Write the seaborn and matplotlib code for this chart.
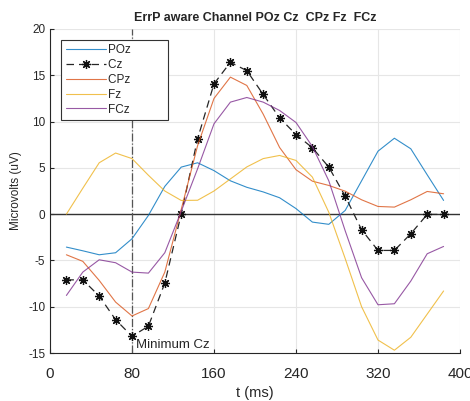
import numpy as np
import pandas as pd
import matplotlib
matplotlib.use("Agg")
import matplotlib.pyplot as plt
import seaborn as sns

t_ms = [16, 32, 48, 64, 80, 96, 112, 128, 144, 160, 176, 192,
        208, 224, 240, 256, 272, 288, 304, 320, 336, 352, 368, 384]

POz = [-3.56, -3.96, -4.39, -4.17, -2.66, -0.14, 3.0, 5.08, 5.55, 4.7, 3.6, 2.9,
       2.4, 1.77, 0.6, -0.86, -1.1, 0.4, 3.6, 6.8, 8.2, 7.06, 4.25, 1.48]
Cz = [-7.1, -7.1, -8.85, -11.4, -13.2, -12.1, -7.45, 0.0, 8.14, 14.08, 16.4, 15.5,
      12.93, 10.4, 8.6, 7.17, 5.08, 1.94, -1.69, -3.92, -3.92, -2.12, -0.03, -0.03]
CPz = [-4.39, -5.1, -7.16, -9.5, -11.0, -10.2, -6.26, 0.5, 7.4, 12.5, 14.8, 13.9,
       10.8, 7.2, 4.8, 3.56, 3.1, 2.48, 1.55, 0.83, 0.76, 1.55, 2.45, 2.2]
Fz = [0.0, 2.8, 5.55, 6.6, 6.0, 4.2, 2.5, 1.48, 1.5, 2.5, 3.8, 5.1,
      6.0, 6.34, 5.8, 4.0, 0.2, -4.8, -10.0, -13.6, -14.7, -13.3, -10.8, -8.3]
FCz = [-8.78, -6.26, -4.93, -5.25, -6.26, -6.37, -4.17, 0.3, 4.9, 9.76, 12.1, 12.6,
       12.1, 11.2, 9.9, 7.3, 3.6, -1.8, -6.87, -9.79, -9.68, -7.23, -4.28, -3.49]

channels = ["POz", "Cz", "CPz", "Fz", "FCz"]
values = {"POz": POz, "Cz": Cz, "CPz": CPz, "Fz": Fz, "FCz": FCz}
colors = {"POz": "#0072BD", "Cz": "#262626", "CPz": "#D95319",
          "Fz": "#EDB120", "FCz": "#7E2F8E"}

min_t = 80
min_label = "Minimum Cz"
x_ticks = [0, 80, 160, 240, 320, 400]
y_ticks = [-15, -10, -5, 0, 5, 10, 15, 20]

df = pd.DataFrame({"t": t_ms * len(channels),
                   "value": sum((values[c] for c in channels), []),
                   "channel": sum(([c] * len(t_ms) for c in channels), [])})

sns.set_style("white")
plt.rcParams["font.family"] = ["Liberation Sans", "DejaVu Sans"]

fig = plt.figure(figsize=(4.70, 4.01), dpi=100)
ax = fig.add_axes([0.1064, 0.1197, 0.8723, 0.808])

for c in channels:
    sub = df[df["channel"] == c]
    lab = c + "          "
    if c == "Cz":
        sns.lineplot(data=sub, x="t", y="value", ax=ax, color=colors[c],
                     linewidth=0.9, linestyle=(0, (6, 4)), marker=(8, 2, 0),
                     markersize=6.5, markeredgewidth=0.9, markeredgecolor="#111111",
                     label=lab, sort=False)
    else:
        sns.lineplot(data=sub, x="t", y="value", ax=ax, color=colors[c],
                     linewidth=0.8, alpha=0.8, label=lab, sort=False)

ax.axhline(0, color="#333333", linewidth=1.0, zorder=1)
ax.axvline(min_t, color="#555555", linewidth=0.9, linestyle="-.", zorder=1)
ax.text(min_t + 4, -14.1, min_label, fontsize=9.5, color="#262626",
        ha="left", va="center")

ax.set_xlim(0, 400)
ax.set_ylim(-15, 20)
ax.set_xticks(x_ticks)
ax.set_yticks(y_ticks)
ax.set_xticklabels([str(v) for v in x_ticks], fontsize=11)
ax.set_yticklabels([str(v) for v in y_ticks], fontsize=8.5)
ax.tick_params(axis="both", direction="in", length=3, width=0.8,
               colors="#262626", bottom=True, left=True)
ax.tick_params(axis="x", pad=10)
ax.grid(True, color="#e6e6e6", linewidth=0.8)
ax.set_axisbelow(True)
for s in ["top", "right"]:
    ax.spines[s].set_visible(False)
for s in ["left", "bottom"]:
    ax.spines[s].set_color("#262626")
    ax.spines[s].set_linewidth(0.8)

ax.set_xlabel("t (ms)", fontsize=10.5, labelpad=4, color="#262626")
ax.set_ylabel("Microvolts (uV)", fontsize=8.5, labelpad=4, color="#262626")
ax.set_title("ErrP aware Channel POz Cz  CPz Fz  FCz", fontsize=9,
             fontweight="bold", pad=6, color="#262626")

leg = ax.legend(loc="upper left", bbox_to_anchor=(0.028, 0.967), fontsize=8.5,
                frameon=True, fancybox=False, edgecolor="#333333",
                handlelength=3.4, handletextpad=0.2, labelspacing=0.25,
                borderpad=0.35, borderaxespad=0.0)
leg.get_frame().set_linewidth(0.8)
leg.get_frame().set_alpha(1.0)

fig.savefig("out.png", dpi=100)
